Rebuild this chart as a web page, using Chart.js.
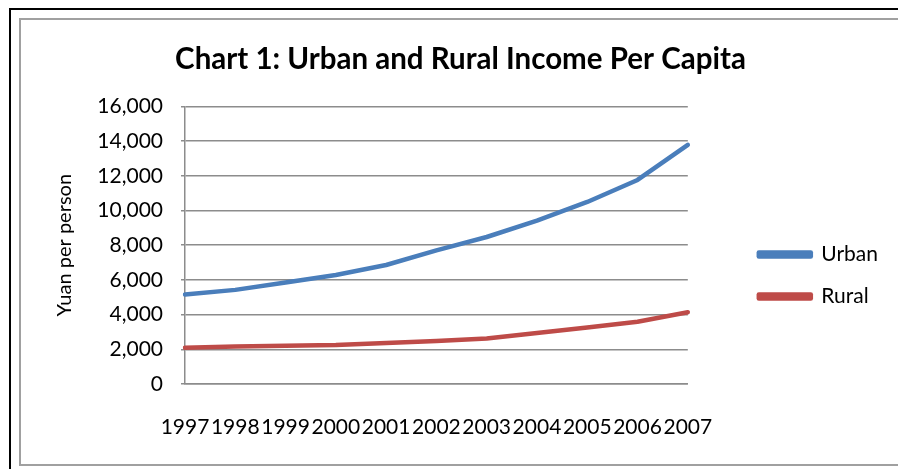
<!DOCTYPE html>
<html>
<head>
<meta charset="utf-8">
<script src="https://cdn.jsdelivr.net/npm/chart.js@4.4.1/dist/chart.umd.min.js"></script>
<style>
  body { margin: 0; background: #fff; overflow: hidden; }
  #outer {
    position: absolute; left: 9px; top: 8px; right: 0; bottom: 0;
    border-left: 2px solid #000; border-top: 2px solid #000;
  }
  #inner {
    position: absolute; left: 8px; top: 8px; width: 877px; height: 444px;
    border-left: 2px solid #a0a0a0; border-top: 2px solid #a0a0a0; border-bottom: 2px solid #a0a0a0;
  }
  #wrap { position: absolute; left: 0; top: 0; width: 877px; height: 442px; }
</style>
</head>
<body>
<div id="outer">
  <div id="inner">
    <div id="wrap"><canvas id="incomeChart"></canvas></div>
  </div>
</div>
<script>
const years = ["1997", "1998", "1999", "2000", "2001", "2002", "2003", "2004", "2005", "2006", "2007"];
const urbanIncome = [5160, 5425, 5854, 6280, 6860, 7703, 8472, 9422, 10493, 11760, 13786];
const ruralIncome = [2090, 2162, 2210, 2253, 2366, 2476, 2622, 2936, 3255, 3587, 4140];
const yTicks = [0, 2000, 4000, 6000, 8000, 10000, 12000, 14000, 16000];

const fontFamily = "Lato, 'Open Sans', sans-serif";
const gridColor = "#8c8c8c";

const ctx = document.querySelector("#incomeChart").getContext("2d");
const incomeChart = new Chart(ctx, {
  type: "line",
  data: {
    labels: years,
    datasets: [
      {
        label: "Urban",
        data: urbanIncome,
        borderColor: "#4a7ebb",
        backgroundColor: "#4a7ebb",
        borderWidth: 4.5,
        pointRadius: 0,
        tension: 0,
        borderCapStyle: "round",
        borderJoinStyle: "round",
      },
      {
        label: "Rural",
        data: ruralIncome,
        borderColor: "#be4b48",
        backgroundColor: "#be4b48",
        borderWidth: 4.5,
        pointRadius: 0,
        tension: 0,
        borderCapStyle: "round",
        borderJoinStyle: "round",
      },
    ],
  },
  options: {
    responsive: true,
    maintainAspectRatio: false,
    animation: false,
    layout: { padding: { left: 12, right: 10, top: 0, bottom: 0 } },
    plugins: {
      title: {
        display: true,
        text: "Chart 1: Urban and Rural Income Per Capita",
        color: "#000",
        font: { family: fontFamily, size: 29.5, weight: "bold" },
        padding: { top: 22, bottom: 29 },
      },
      legend: {
        position: "right",
        maxWidth: 200,
        // blank legend title just pushes the items down a bit
        title: { display: true, text: " ", font: { size: 10 }, padding: { top: 57, bottom: 0 } },
        labels: {
          color: "#000",
          font: { family: fontFamily, size: 21 },
          boxWidth: 52,
          boxHeight: 4,
          padding: 21,
        },
      },
      tooltip: { enabled: false },
    },
    scales: {
      x: {
        grid: { display: false, drawTicks: false },
        border: { display: true, color: gridColor, width: 1.5 },
        afterFit: (scale) => {
          scale.height = 78;
        },
        ticks: {
          autoSkip: false,
          maxRotation: 0,
          minRotation: 0,
          color: "#000",
          font: { family: fontFamily, size: 21 },
          padding: 31,
        },
      },
      y: {
        min: 0,
        max: 16000,
        afterBuildTicks: (scale) => {
          scale.ticks = yTicks.map((v) => ({ value: v }));
        },
        afterFit: (scale) => {
          scale.width = 152;
        },
        grid: { color: gridColor, lineWidth: 1.5, tickLength: 4 },
        border: { display: true, color: gridColor, width: 1.5 },
        ticks: {
          color: "#000",
          font: { family: fontFamily, size: 21 },
          padding: 18,
          callback: (v) => v.toLocaleString("en-US"),
        },
        title: {
          display: true,
          text: "Yuan per person",
          color: "#000",
          font: { family: fontFamily, size: 20 },
          padding: { top: 20, bottom: 3 },
        },
      },
      // empty right axis, only keeps a gap between the plot and the legend
      gap: {
        type: "linear",
        position: "right",
        display: true,
        grid: { display: false, drawTicks: false },
        border: { display: false },
        ticks: { display: false },
        afterFit: (scale) => {
          scale.width = 50;
        },
      },
    },
  },
});
</script>
</body>
</html>
